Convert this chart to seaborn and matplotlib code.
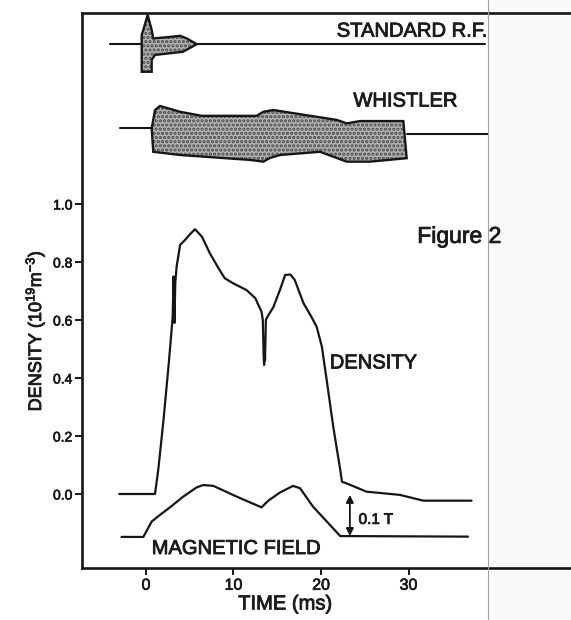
import matplotlib
matplotlib.use("Agg")
import matplotlib.pyplot as plt
import matplotlib.patheffects as pe
import seaborn as sns
import pandas as pd
from matplotlib.patches import Polygon, Rectangle
from matplotlib.lines import Line2D

# ---------------- data ----------------
density_t = [-3.05, 1.03, 1.4, 2.0, 2.6, 3.05, 3.15, 3.25, 3.35, 3.5, 3.9, 4.46, 5.0, 5.6,
             6.4, 7.3, 8.3, 9.0, 10.0, 11.5, 12.5, 12.84, 13.2, 13.35, 13.45, 13.5, 13.55,
             13.6, 13.7, 13.87, 14.55, 15.3, 15.9, 16.5, 17.0, 18.0, 18.9, 19.5, 20.1,
             20.65, 21.4, 22.2, 22.4, 22.9, 25.2, 29.0, 31.7, 37.2]
density_v = [0.0, 0.0, 0.083, 0.255, 0.45, 0.61, 0.75, 0.59, 0.73, 0.784, 0.859, 0.876, 0.895, 0.913,
             0.887, 0.83, 0.778, 0.744, 0.726, 0.703, 0.675, 0.652, 0.629, 0.60, 0.47, 0.445, 0.52,
             0.46, 0.60, 0.611, 0.644, 0.703, 0.755, 0.757, 0.738, 0.658, 0.611, 0.577, 0.508,
             0.393, 0.232, 0.083, 0.042, 0.037, 0.008, -0.003, -0.023, -0.023]

field_t = [-2.8, -0.3, 0.65, 1.6, 2.74, 4.26, 5.8, 6.55, 7.7, 10.36, 13.2, 13.98, 15.3,
           16.8, 17.6, 19.1, 22.2, 36.8]
field_v = [-0.148, -0.148, -0.095, -0.072, -0.046, -0.009, 0.023, 0.031, 0.028, -0.009,
           -0.046, -0.023, 0.005, 0.028, 0.02, -0.044, -0.145, -0.147]

rf_t = [0.19, 0.65, 0.83, 2.37, 3.89, 4.65, 5.79, 4.23, 1.03, 0.65, 0.65, -0.49, -0.49, -0.31]
rf_v = [1.652, 1.600, 1.571, 1.575, 1.580, 1.571, 1.551, 1.525, 1.514, 1.497, 1.456, 1.456,
        1.583, 1.600]
rf_base_t = [-4.1, 38.7]
rf_base_v = [1.551, 1.551]

wh_t = [0.65, 1.03, 1.60, 3.89, 6.37, 12.65, 13.41, 14.55, 21.79, 22.94, 24.46, 29.41,
        29.79, 25.6, 22.94, 19.89, 15.31, 14.17, 13.41, 11.89, 3.89, 0.83]
wh_v = [1.261, 1.324, 1.338, 1.318, 1.304, 1.304, 1.318, 1.324, 1.290, 1.278, 1.286, 1.286,
        1.158, 1.146, 1.146, 1.180, 1.169, 1.159, 1.146, 1.152, 1.169, 1.180]
wh_base_left_t = [-3.0, 0.65]
wh_base_left_v = [1.261, 1.261]
wh_base_right_t = [29.8, 39.1]
wh_base_right_v = [1.242, 1.242]

field_scale_t = 23.3
field_scale_v = [-0.003, -0.145]

y_ticks = [0.0, 0.2, 0.4, 0.6, 0.8, 1.0]
y_tick_labels = ["0.0", "0.2", "0.4", "0.6", "0.8", "1.0"]
x_ticks = [0, 10, 20, 30]
x_tick_labels = ["0", "10", "20", "30"]

# ---------------- style ----------------
sns.set_theme(style="ticks")
plt.rcParams["font.family"] = ["Liberation Sans", "DejaVu Sans"]
plt.rcParams["mathtext.fontset"] = "custom"
plt.rcParams["mathtext.rm"] = "Liberation Sans"
plt.rcParams["mathtext.it"] = "Liberation Sans:italic"
plt.rcParams["mathtext.bf"] = "Liberation Sans:bold"
plt.rcParams["hatch.linewidth"] = 1.6

W, H = 571, 620
fig = plt.figure(figsize=(W / 100, H / 100), dpi=100)
fig.patch.set_facecolor("white")

# scanned page: slightly tinted right strip and fold line
fig.patches.append(Rectangle((488 / W, 0), 1 - 488 / W, 1, transform=fig.transFigure,
                             facecolor="#f8fafb", edgecolor="none", zorder=-10))

ax_left, ax_right, ax_bot, ax_top = 82, 571, 568, 13
ax = fig.add_axes([ax_left / W, (H - ax_bot) / H, (ax_right - ax_left) / W, (ax_bot - ax_top) / H])
ax.set_facecolor("none")

px0, pxs = 146.0, 8.75     # pixel of t=0, pixels per ms
py0, pys = 494.0, 290.0    # pixel of d=0, pixels per unit
ax.set_xlim((ax_left - px0) / pxs, (ax_right - px0) / pxs)
ax.set_ylim((py0 - ax_bot) / pys, (py0 - ax_top) / pys)

ink = "#161616"
dens = pd.DataFrame({"t": density_t, "v": density_v})
fld = pd.DataFrame({"t": field_t, "v": field_v})
sns.lineplot(data=dens, x="t", y="v", sort=False, estimator=None, color=ink, lw=1.6, ax=ax)
sns.lineplot(data=fld, x="t", y="v", sort=False, estimator=None, color=ink, lw=1.6, ax=ax)

# RF and whistler pulses
sns.lineplot(x=rf_base_t, y=rf_base_v, color=ink, lw=1.5, ax=ax)
sns.lineplot(x=wh_base_left_t, y=wh_base_left_v, color=ink, lw=1.5, ax=ax)
sns.lineplot(x=wh_base_right_t, y=wh_base_right_v, color=ink, lw=1.5, ax=ax)
for tt, vv in ((rf_t, rf_v), (wh_t, wh_v)):
    pts = list(zip(tt, vv))
    ax.add_patch(Polygon(pts, closed=True, facecolor="#b4b4b4", edgecolor="#4a4a4a",
                         hatch="....", lw=0, zorder=3))
    ax.add_patch(Polygon(pts, closed=True, facecolor="none", edgecolor=ink,
                         lw=1.7, zorder=4))

# 0.1 T scale arrow
ax.annotate("", xy=(field_scale_t, field_scale_v[0]), xytext=(field_scale_t, field_scale_v[1]),
            arrowprops=dict(arrowstyle="<|-|>", color=ink, lw=1.3,
                            mutation_scale=11, shrinkA=0, shrinkB=0))

tc = "#1c1c1c"
heavy = [pe.withStroke(linewidth=0.6, foreground=tc)]
ax.text(21.8, 1.577, "STANDARD R.F.", fontsize=14.5, color=tc, va="baseline", ha="left",
        path_effects=heavy)
ax.text(23.7, 1.336, "WHISTLER", fontsize=14.5, color=tc, va="baseline", ha="left",
        path_effects=heavy)
ax.text(31.0, 0.866, "Figure 2", fontsize=16.5, color=tc, va="baseline", ha="left",
        path_effects=heavy)
ax.text(21.0, 0.433, "DENSITY", fontsize=14.5, color=tc, va="baseline", ha="left",
        path_effects=heavy)
ax.text(0.65, -0.207, "MAGNETIC FIELD", fontsize=14.5, color=tc, va="baseline", ha="left",
        path_effects=heavy)
ax.text(24.3, -0.103, "0.1 T", fontsize=11, color=tc, va="baseline", ha="left",
        path_effects=heavy)
ax.text(15.9, -0.398, "TIME (ms)", fontsize=14.5, color=tc, va="baseline", ha="center",
        clip_on=False, path_effects=heavy)
fig.text(35 / W, (H - 331) / H, r"DENSITY (10$^{\mathrm{19}}$m$^{\mathrm{-3}}$)", fontsize=13,
         color=tc, rotation=90, ha="center", va="center", path_effects=heavy)

ax.set_xticks(x_ticks)
ax.set_xticklabels(x_tick_labels)
ax.set_yticks(y_ticks)
ax.set_yticklabels(y_tick_labels)
ax.tick_params(axis="x", direction="out", length=5, width=1.4, pad=2, labelsize=11.5,
               colors=ink)
ax.tick_params(axis="y", direction="out", length=5, width=1.4, pad=2, labelsize=10,
               colors=ink)
for lab in ax.get_xticklabels() + ax.get_yticklabels():
    lab.set_path_effects([pe.withStroke(linewidth=0.5, foreground=tc)])
ax.set_xlabel("")
ax.set_ylabel("")
for side in ("left", "top", "bottom"):
    ax.spines[side].set_linewidth(1.9)
    ax.spines[side].set_color(ink)
ax.spines["right"].set_visible(False)

fig.add_artist(Line2D([488 / W, 488 / W], [0, 1], transform=fig.transFigure,
                      color="#a0a0a0", lw=0.8, zorder=10))

fig.savefig("out.png", dpi=100)
